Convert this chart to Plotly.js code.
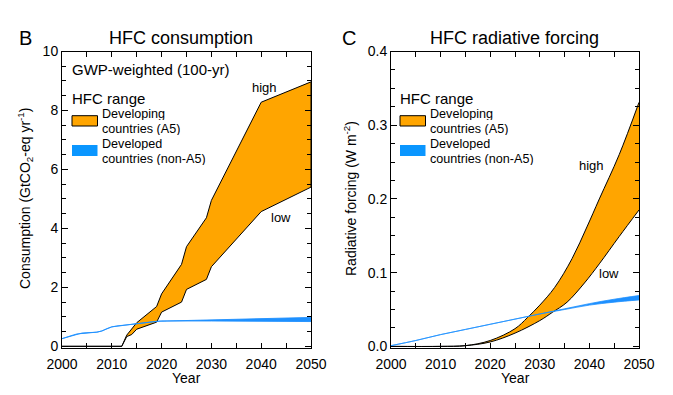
<!DOCTYPE html>
<html>
<head>
<meta charset="utf-8">
<script src="https://cdn.plot.ly/plotly-3.0.1.min.js"></script>
<style>html,body{margin:0;padding:0;background:#fff;}#chart{width:673px;height:395px;}</style>
</head>
<body>
<div id="chart"></div>
<script>
// ---------- Panel B: HFC consumption (GtCO2-eq / yr) ----------
const consHighYears = [2000, 2012, 2013, 2015, 2019, 2020, 2024, 2025, 2029, 2030, 2040, 2050];
const consHighVals  = [0, 0, 0.38, 0.80, 1.35, 1.78, 2.78, 3.38, 4.36, 4.95, 8.28, 8.97];
const consLowYears  = [2000, 2012, 2013, 2014, 2015, 2019, 2020, 2024, 2025, 2029, 2030, 2040, 2050];
const consLowVals   = [0, 0, 0.33, 0.40, 0.58, 0.82, 1.16, 1.50, 1.93, 2.27, 2.70, 4.57, 5.40];

const consDevYears = [2000, 2001, 2002, 2003, 2004, 2005, 2006, 2007, 2008, 2009, 2010, 2011, 2012, 2013, 2014, 2015, 2016, 2017, 2018, 2019, 2020, 2030, 2040, 2050];
const consDevLow   = [0.26, 0.31, 0.37, 0.42, 0.45, 0.46, 0.47, 0.48, 0.52, 0.60, 0.66, 0.69, 0.71, 0.73, 0.75, 0.77, 0.79, 0.81, 0.83, 0.85, 0.86, 0.86, 0.85, 0.84];
const consDevHigh  = [0.26, 0.31, 0.37, 0.42, 0.45, 0.46, 0.47, 0.48, 0.52, 0.60, 0.66, 0.69, 0.71, 0.73, 0.75, 0.77, 0.79, 0.81, 0.83, 0.85, 0.87, 0.90, 0.94, 0.98];

// ---------- Panel C: HFC radiative forcing (W m-2) ----------
const rfHighYears = [2000, 2010, 2015, 2020, 2025, 2027.5, 2030, 2033, 2036.5, 2039.5, 2042, 2046, 2050];
const rfHighVals  = [0, 0, 0.001, 0.008, 0.024, 0.039, 0.056, 0.080, 0.119, 0.162, 0.200, 0.260, 0.331];
const rfLowYears  = [2000, 2010, 2015, 2020, 2025, 2030, 2032.5, 2035.5, 2039, 2042, 2046, 2050];
const rfLowVals   = [0, 0, 0.001, 0.006, 0.018, 0.035, 0.046, 0.060, 0.086, 0.112, 0.149, 0.185];

const rfDevYears = [2000, 2005, 2010, 2015, 2020, 2025, 2030, 2035, 2040, 2045, 2050];
const rfDevLow   = [0.001, 0.008, 0.016, 0.023, 0.030, 0.037, 0.044, 0.050, 0.056, 0.060, 0.063];
const rfDevHigh  = [0.001, 0.008, 0.016, 0.023, 0.030, 0.037, 0.044, 0.051, 0.058, 0.064, 0.069];

// ---------- labels ----------
const panelLetters = ['B', 'C'];
const panelTitles = ['HFC consumption', 'HFC radiative forcing'];
const yTitles = ['Consumption (GtCO<sub>2</sub>-eq yr<sup>-1</sup>)', 'Radiative forcing (W m<sup>-2</sup>)'];
const xTitle = 'Year';
const noteText = 'GWP-weighted (100-yr)';
const legendTitle = 'HFC range';
const legendA5 = ['Developing', 'countries (A5)'];
const legendNonA5 = ['Developed', 'countries (non-A5)'];
const rangeLabels = ['high', 'low'];

const ORANGE = '#FFA500';
const BLUE = '#1E90FF';
const FONT = 'Liberation Sans, Arial, Helvetica, sans-serif';
const W = 673, H = 395;
const fx = p => p / W;
const fy = p => 1 - p / H;

function band(lx, ly, hx, hy) {
  return {
    x: lx.concat(hx.slice().reverse()),
    y: ly.concat(hy.slice().reverse())
  };
}

const bOrange = band(consLowYears, consLowVals, consHighYears, consHighVals);
const bBlue = band(consDevYears, consDevLow, consDevYears, consDevHigh);

const traces = [
  {x: bOrange.x, y: bOrange.y, xaxis: 'x', yaxis: 'y', type: 'scatter', mode: 'lines',
   fill: 'toself', fillcolor: ORANGE, line: {color: 'black', width: 1}, hoverinfo: 'skip'},
  {x: bBlue.x, y: bBlue.y, xaxis: 'x', yaxis: 'y', type: 'scatter', mode: 'lines',
   fill: 'toself', fillcolor: BLUE, line: {color: BLUE, width: 0.9}, hoverinfo: 'skip'},
  {x: rfLowYears, y: rfLowVals, xaxis: 'x2', yaxis: 'y2', type: 'scatter', mode: 'lines',
   line: {color: 'black', width: 1, shape: 'spline', smoothing: 1}, hoverinfo: 'skip'},
  {x: rfHighYears, y: rfHighVals, xaxis: 'x2', yaxis: 'y2', type: 'scatter', mode: 'lines',
   fill: 'tonexty', fillcolor: ORANGE,
   line: {color: 'black', width: 1, shape: 'spline', smoothing: 1}, hoverinfo: 'skip'},
  {x: rfDevYears, y: rfDevLow, xaxis: 'x2', yaxis: 'y2', type: 'scatter', mode: 'lines',
   line: {color: BLUE, width: 0.8, shape: 'spline'}, hoverinfo: 'skip'},
  {x: rfDevYears, y: rfDevHigh, xaxis: 'x2', yaxis: 'y2', type: 'scatter', mode: 'lines',
   fill: 'tonexty', fillcolor: BLUE,
   line: {color: BLUE, width: 0.8, shape: 'spline'}, hoverinfo: 'skip'}
];

const tickFont = {family: FONT, size: 14, color: 'black'};
function xAxis(domain, anchor) {
  return {
    domain: domain, anchor: anchor, range: [2000, 2050], dtick: 10, tick0: 2000,
    showline: true, linecolor: 'black', linewidth: 1, mirror: 'allticks',
    ticks: 'inside', ticklen: 5, tickcolor: 'black', tickwidth: 1,
    minor: {dtick: 5, ticks: 'inside', ticklen: 5, tickcolor: 'black'},
    ticklabelstandoff: 4,
    showgrid: false, zeroline: false, tickfont: tickFont, fixedrange: true
  };
}
function yAxis(anchor, range, dtick, minorDtick, fmt) {
  return {
    domain: [fy(347.5), fy(51.5)], anchor: anchor, range: range, dtick: dtick, tick0: 0,
    tickformat: fmt,
    showline: true, linecolor: 'black', linewidth: 1, mirror: 'allticks',
    ticks: 'inside', ticklen: 6, tickcolor: 'black', tickwidth: 1,
    minor: {dtick: minorDtick, ticks: 'inside', ticklen: 4, tickcolor: 'black'},
    showgrid: false, zeroline: false, tickfont: tickFont, fixedrange: true
  };
}

function ann(text, x, y, opts) {
  return Object.assign({
    text: text, xref: 'paper', yref: 'paper', x: fx(x), y: fy(y),
    xanchor: 'left', yanchor: 'middle', showarrow: false,
    font: {family: FONT, size: 13, color: 'black'}
  }, opts || {});
}

const annotations = [
  ann(panelLetters[0], 25, 38, {xanchor: 'center', font: {family: FONT, size: 20, color: 'black'}}),
  ann(panelLetters[1], 349, 38, {xanchor: 'center', font: {family: FONT, size: 20, color: 'black'}}),
  ann(panelTitles[0], 181, 38, {xanchor: 'center', font: {family: FONT, size: 18, color: 'black'}}),
  ann(panelTitles[1], 514, 38, {xanchor: 'center', font: {family: FONT, size: 18, color: 'black'}}),
  ann(yTitles[0], 25, 199, {xanchor: 'center', textangle: -90, font: {family: FONT, size: 14, color: 'black'}}),
  ann(yTitles[1], 350, 199, {xanchor: 'center', textangle: -90, font: {family: FONT, size: 14, color: 'black'}}),
  ann(xTitle, 186.5, 378, {xanchor: 'center', font: {family: FONT, size: 14, color: 'black'}}),
  ann(xTitle, 515, 378, {xanchor: 'center', font: {family: FONT, size: 14, color: 'black'}}),
  ann(noteText, 70, 69, {font: {family: FONT, size: 15, color: 'black'}}),
  ann(rangeLabels[0], 264, 88, {xanchor: 'center'}),
  ann(rangeLabels[1], 280.5, 217.5, {xanchor: 'center'}),
  ann(rangeLabels[0], 591, 165.5, {xanchor: 'center'}),
  ann(rangeLabels[1], 609, 273, {xanchor: 'center'})
];

const shapes = [];
[[72, 100], [400, 428]].forEach(([sx, tx]) => {
  annotations.push(ann(legendTitle, sx - 2, 98, {font: {family: FONT, size: 15, color: 'black'}}));
  annotations.push(ann(legendA5[0], tx, 113.5, {height: 13, font: {family: FONT, size: 12.6, color: 'black'}}));
  annotations.push(ann(legendA5[1], tx, 128.5, {height: 13, font: {family: FONT, size: 12.6, color: 'black'}}));
  annotations.push(ann(legendNonA5[0], tx, 144, {height: 13, font: {family: FONT, size: 12.6, color: 'black'}}));
  annotations.push(ann(legendNonA5[1], tx, 158.5, {height: 13, font: {family: FONT, size: 12.6, color: 'black'}}));
  shapes.push({type: 'rect', xref: 'paper', yref: 'paper', x0: fx(sx), x1: fx(sx + 25.5), y0: fy(126), y1: fy(115.7),
               fillcolor: ORANGE, line: {color: 'black', width: 1}});
  shapes.push({type: 'rect', xref: 'paper', yref: 'paper', x0: fx(sx), x1: fx(sx + 25.5), y0: fy(156), y1: fy(145),
               fillcolor: '#0A96FF', line: {width: 0}});
});

const layout = {
  width: W, height: H,
  margin: {l: 0, r: 0, t: 0, b: 0},
  paper_bgcolor: 'white', plot_bgcolor: 'white',
  showlegend: false,
  font: {family: FONT, color: 'black'},
  xaxis: xAxis([fx(62), fx(311)], 'y'),
  yaxis: yAxis('x', [-0.04, 10], 2, 0.5, 'd'),
  xaxis2: xAxis([fx(391), fx(639)], 'y2'),
  yaxis2: yAxis('x2', [-0.0015, 0.4], 0.1, 0.025, '.1f'),
  annotations: annotations,
  shapes: shapes
};

Plotly.newPlot('chart', traces, layout, {staticPlot: true, displayModeBar: false});
</script>
</body>
</html>
